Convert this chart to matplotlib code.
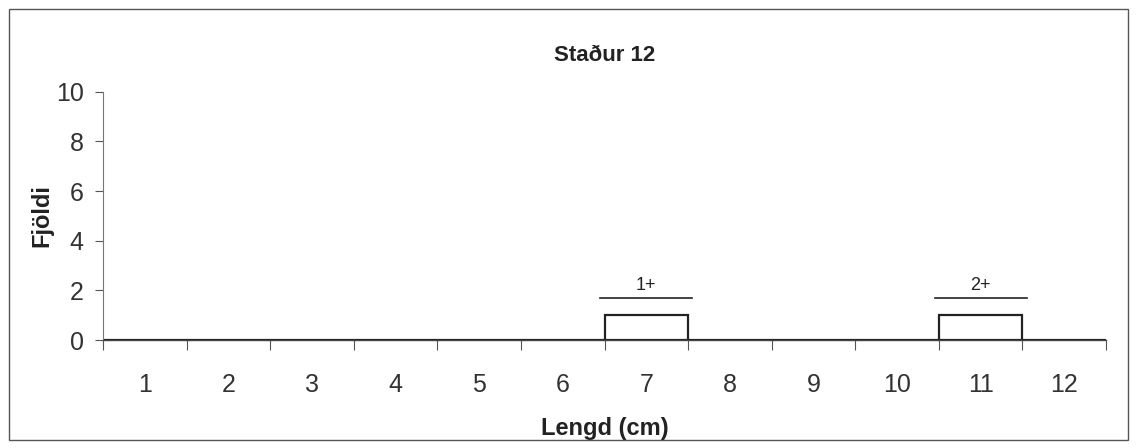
import matplotlib.pyplot as plt
from matplotlib.patches import Rectangle
import numpy as np

plt.rcParams['font.family'] = ['Liberation Sans', 'DejaVu Sans']

# Data
lengths = [1, 2, 3, 4, 5, 6, 7, 8, 9, 10, 11, 12]
counts = [0, 0, 0, 0, 0, 0, 1, 0, 0, 0, 1, 0]
age_labels = ['1+', '2+']
age_positions = [7, 11]

fig = plt.figure(figsize=(11.36, 4.48), dpi=100)
ax = fig.add_axes([0.0907, 0.241, 0.8829, 0.554])

x = np.arange(len(lengths))
ax.bar(x, counts, width=1.0, facecolor='white', edgecolor='#222222', linewidth=1.6)

ax.set_xlim(-0.5, len(lengths) - 0.5)
ax.set_ylim(0, 10)

# x ticks at category boundaries, labels at centres
ax.set_xticks(np.arange(len(lengths) + 1) - 0.5)
ax.set_xticklabels([])
ax.set_xticks(x, minor=True)
ax.set_xticklabels([str(v) for v in lengths], minor=True, fontsize=18, color='#333333')
ax.tick_params(axis='x', which='major', direction='out', length=7, width=0.8, color='#555555')
ax.tick_params(axis='x', which='minor', length=0, pad=24)

ax.set_yticks([0, 2, 4, 6, 8, 10])
ax.tick_params(axis='y', direction='out', length=6, width=0.8, color='#555555',
               labelsize=18, labelcolor='#333333', pad=8)

for side in ['top', 'right']:
    ax.spines[side].set_visible(False)
ax.spines['left'].set_color('#777777')
ax.spines['left'].set_linewidth(0.8)
ax.spines['bottom'].set_color('#444444')
ax.spines['bottom'].set_linewidth(1.0)

# age group annotations
for label, pos in zip(age_labels, age_positions):
    i = lengths.index(pos)
    ax.plot([i - 0.55, i + 0.55], [1.7, 1.7], color='#222222', linewidth=1.2)
    ax.text(i, 1.85, label, ha='center', va='bottom', fontsize=13, color='#222222')

ax.set_title('Staður 12', fontsize=16, fontweight='bold', color='#222222', pad=22)
ax.set_ylabel('Fjöldi', fontsize=17, fontweight='bold', color='#222222', labelpad=2)
ax.set_xlabel('Lengd (cm)', fontsize=17, fontweight='bold', color='#222222', labelpad=14)

# outer frame
fig.patches.append(Rectangle((0.008, 0.018), 0.985, 0.963, transform=fig.transFigure,
                             fill=False, edgecolor='#555555', linewidth=1.0))

fig.savefig('out.png', dpi=100, facecolor='white')
